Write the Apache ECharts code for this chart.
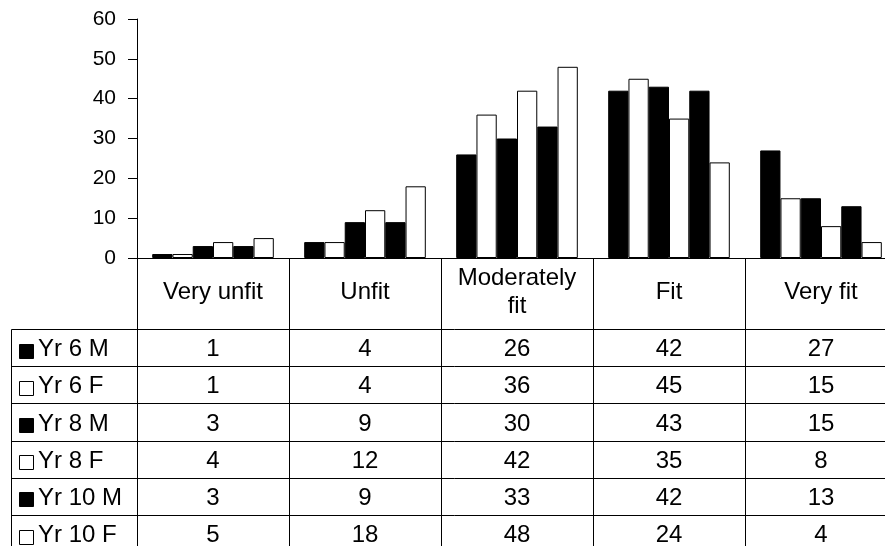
<!DOCTYPE html>
<html>
<head>
<meta charset="utf-8">
<script src="https://cdn.jsdelivr.net/npm/echarts@6/dist/echarts.min.js"></script>
<style>
html,body{margin:0;padding:0;background:#fff;overflow:hidden;width:885px;height:546px;}
#chart{width:900px;height:546px;}
</style>
</head>
<body>
<div id="chart"></div>
<script>
const categories = ['Very unfit', 'Unfit', 'Moderately fit', 'Fit', 'Very fit'];
const categoryLabels = ['Very unfit', 'Unfit', 'Moderately\nfit', 'Fit', 'Very fit'];
const seriesNames = ['Yr 6 M', 'Yr 6 F', 'Yr 8 M', 'Yr 8 F', 'Yr 10 M', 'Yr 10 F'];
const seriesFilled = [true, false, true, false, true, false];
const yr6M = [1, 4, 26, 42, 27];
const yr6F = [1, 4, 36, 45, 15];
const yr8M = [3, 9, 30, 43, 15];
const yr8F = [4, 12, 42, 35, 8];
const yr10M = [3, 9, 33, 42, 13];
const yr10F = [5, 18, 48, 24, 4];
const seriesValues = [yr6M, yr6F, yr8M, yr8F, yr10M, yr10F];
const yMin = 0, yMax = 60, yStep = 10;

const FONT = "'Liberation Sans', Arial, sans-serif";
const TABLE_FONT_SIZE = 24;
const GRID = {left: 137, top: 19, width: 760, height: 239};
const HEADER_H = 71;
const ROW_H = 37.2;
const TABLE_LEFT = 11;

const chart = echarts.init(document.getElementById('chart'));

const series = seriesNames.map((name, i) => ({
  name: name,
  type: 'bar',
  data: seriesValues[i],
  barGap: '0%',
  barCategoryGap: '20%',
  itemStyle: {
    color: seriesFilled[i] ? '#000' : '#fff',
    borderColor: '#000',
    borderWidth: 1
  },
  emphasis: {disabled: true},
  animation: false
}));

chart.setOption({
  animation: false,
  backgroundColor: '#fff',
  grid: {left: GRID.left, top: GRID.top, width: GRID.width, height: GRID.height, containLabel: false},
  xAxis: {
    type: 'category',
    data: categories,
    axisLine: {show: true, lineStyle: {color: '#000', width: 1}},
    axisTick: {show: false},
    axisLabel: {show: false},
    splitLine: {show: false}
  },
  yAxis: {
    type: 'value',
    min: yMin, max: yMax, interval: yStep,
    axisLine: {show: true, lineStyle: {color: '#000', width: 1}},
    axisTick: {show: true, inside: false, length: 9, lineStyle: {color: '#000', width: 1}},
    axisLabel: {color: '#000', fontFamily: FONT, fontSize: 21, margin: 21},
    splitLine: {show: false}
  },
  series: series
});

// Build data table under the plot
function buildTable() {
  const els = [];
  const zeroY = chart.convertToPixel({yAxisIndex: 0}, 0);
  const c0 = chart.convertToPixel({xAxisIndex: 0}, categories[0]);
  const c1 = chart.convertToPixel({xAxisIndex: 0}, categories[1]);
  const bandW = c1 - c0;
  const leftX = c0 - bandW / 2;
  const rightX = leftX + bandW * categories.length;
  const headerBottom = zeroY + HEADER_H;
  const tableBottom = headerBottom + ROW_H * seriesNames.length;
  const ls = {stroke: '#000', lineWidth: 1};
  const snap = v => Math.round(v) + 0.5;
  const font = TABLE_FONT_SIZE + 'px ' + FONT;

  for (let k = 0; k <= categories.length; k++) {
    const x = snap(leftX + bandW * k);
    els.push({type: 'line', silent: true, shape: {x1: x, y1: zeroY, x2: x, y2: tableBottom}, style: ls});
  }
  els.push({type: 'line', silent: true, shape: {x1: snap(TABLE_LEFT), y1: snap(headerBottom), x2: snap(TABLE_LEFT), y2: tableBottom}, style: ls});
  for (let r = 0; r <= seriesNames.length; r++) {
    const y = snap(headerBottom + ROW_H * r);
    els.push({type: 'line', silent: true, shape: {x1: snap(TABLE_LEFT), y1: y, x2: rightX, y2: y}, style: ls});
  }
  categories.forEach((c, i) => {
    const cx = chart.convertToPixel({xAxisIndex: 0}, c);
    els.push({type: 'text', silent: true, x: cx, y: zeroY + HEADER_H / 2 - 1,
      style: {text: categoryLabels[i], fill: '#000', font: font, align: 'center', verticalAlign: 'middle', lineHeight: 28}});
  });
  seriesNames.forEach((name, r) => {
    const cy = headerBottom + ROW_H * r + ROW_H / 2 + 2;
    els.push({type: 'rect', silent: true, shape: {x: 19.5, y: Math.round(cy - 6) + 0.5, width: 14, height: 14},
      style: {fill: seriesFilled[r] ? '#000' : '#fff', stroke: '#000', lineWidth: 1}});
    els.push({type: 'text', silent: true, x: 38, y: cy,
      style: {text: name, fill: '#000', font: font, align: 'left', verticalAlign: 'middle'}});
    categories.forEach((c, i) => {
      const cx = chart.convertToPixel({xAxisIndex: 0}, c);
      els.push({type: 'text', silent: true, x: cx, y: cy,
        style: {text: String(seriesValues[r][i]), fill: '#000', font: font, align: 'center', verticalAlign: 'middle'}});
    });
  });
  chart.setOption({graphic: {elements: els}});
}
buildTable();
</script>
</body>
</html>
